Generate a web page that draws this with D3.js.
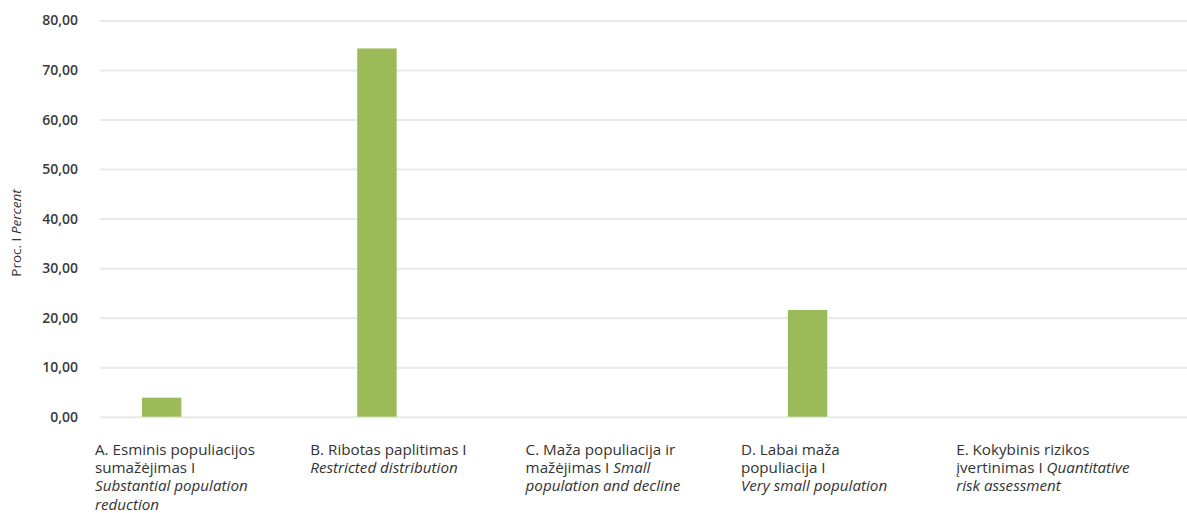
<!DOCTYPE html>
<html>
<head>
<meta charset="utf-8">
<script src="https://cdn.jsdelivr.net/npm/d3@7"></script>
<style>
  html, body { margin: 0; padding: 0; background: #ffffff; }
  svg { display: block; font-family: "Open Sans", "Noto Sans", sans-serif; }
</style>
</head>
<body>
<svg id="chart" width="1187" height="513"></svg>
<script>
// ---- data ----
const categories = ["A", "B", "C", "D", "E"];
const categoryLabels = [
  [[["A. Esminis populiacijos", false]], [["sumažėjimas I", false]], [["Substantial population", true]], [["reduction", true]]],
  [[["B. Ribotas paplitimas I", false]], [["Restricted distribution", true]]],
  [[["C. Maža populiacija ir", false]], [["mažėjimas I ", false], ["Small", true]], [["population and decline", true]]],
  [[["D. Labai maža", false]], [["populiacija I", false]], [["Very small population", true]]],
  [[["E. Kokybinis rizikos", false]], [["įvertinimas I ", false], ["Quantitative", true]], [["risk assessment", true]]]
];
const values = [3.84, 74.36, 0, 21.54, 0];
const yTicks = [0, 10, 20, 30, 40, 50, 60, 70, 80];
const yTitle = [["Proc. I ", false], ["Percent", true]];

// ---- layout ----
const W = 1187, H = 513;
const svg = d3.select("#chart");
const plotLeft = 100, plotTop = 20.5, plotBottom = 416.7;

const y = d3.scaleLinear().domain([0, 80]).range([plotBottom, plotTop]);
const x = d3.scaleBand().domain(categories)
  .range([54, 54 + 5 * 215.3])
  .paddingInner(0.817)
  .paddingOuter(0.4085);

// gridlines + y tick labels
const yAxis = d3.axisLeft(y)
  .tickValues(yTicks)
  .tickSize(-(W - plotLeft))
  .tickPadding(22)
  .tickFormat(d => d3.format(".2f")(d).replace(".", ","));

const gy = svg.append("g").attr("transform", `translate(${plotLeft},0)`).call(yAxis);
gy.select(".domain").remove();
gy.selectAll(".tick line").attr("stroke", "#e9e9e9").attr("stroke-width", 2);
gy.selectAll(".tick text")
  .attr("fill", "#3a3a3a")
  .attr("font-size", 14)
  .attr("font-weight", 600)
  .attr("font-family", "'Open Sans', sans-serif");

// bars
svg.append("g").selectAll("rect")
  .data(categories.map((c, i) => ({ c, v: values[i] })).filter(d => d.v > 0))
  .join("rect")
  .attr("x", d => x(d.c))
  .attr("width", x.bandwidth())
  .attr("y", d => y(d.v))
  .attr("height", d => y(0) - y(d.v))
  .attr("fill", "#9bbb59");

// category labels
const labelInset = 41;
const lineH = 18.2;
const gl = svg.append("g").attr("font-size", 15.2).attr("fill", "#333333");
categories.forEach((c, i) => {
  const x0 = x(c) + x.bandwidth() / 2 - x.step() / 2 + labelInset;
  const t = gl.append("text").attr("x", x0).attr("y", 455);
  categoryLabels[i].forEach((line, li) => {
    line.forEach((seg, si) => {
      const ts = t.append("tspan")
        .text(seg[0])
        .attr("font-style", seg[1] ? "italic" : "normal");
      if (si === 0) {
        ts.attr("x", x0).attr("dy", li === 0 ? 0 : lineH);
      }
    });
  });
});

// y axis title
const tt = svg.append("text")
  .attr("transform", `translate(21,233) rotate(-90)`)
  .attr("text-anchor", "middle")
  .attr("font-size", 13.5)
  .attr("fill", "#333333");
yTitle.forEach(seg => {
  tt.append("tspan").text(seg[0]).attr("font-style", seg[1] ? "italic" : "normal");
});
</script>
</body>
</html>
